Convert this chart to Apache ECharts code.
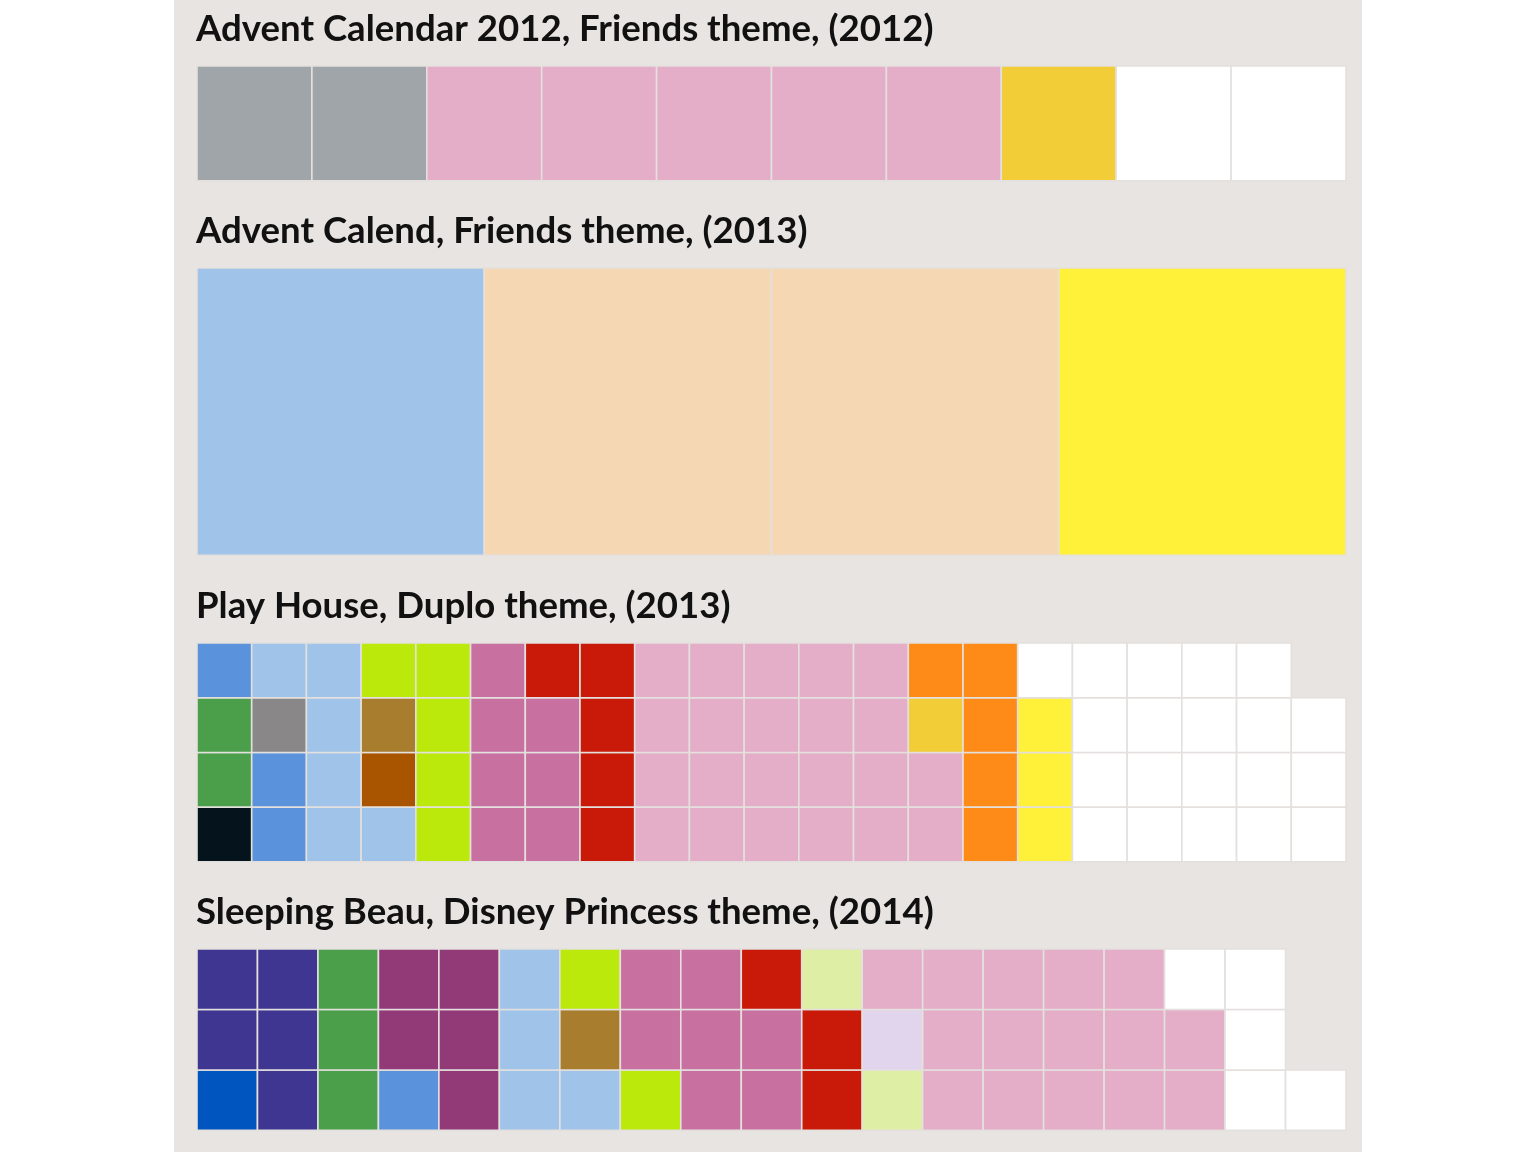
<!DOCTYPE html>
<html>
<head>
<meta charset="utf-8">
<script src="https://cdn.jsdelivr.net/npm/echarts@6/dist/echarts.min.js"></script>
<style>
html,body{margin:0;padding:0;background:#ffffff;}
#chart{width:1536px;height:1152px;}
</style>
</head>
<body>
<div id="chart"></div>
<script>
// ---- Data (colour counts per set, cells filled column by column, bottom to top) ----
const titles = [
  "Advent Calendar 2012, Friends theme, (2012)",
  "Advent Calend, Friends theme, (2013)",
  "Play House, Duplo theme, (2013)",
  "Sleeping Beau, Disney Princess theme, (2014)"
];
const rowsPerSet = [1, 1, 4, 3];

const set1Colors = ["#a0a5a9", "#e4adc8", "#f2cd37", "#ffffff"];
const set1Counts = [2, 5, 1, 2];

const set2Colors = ["#9fc3e9", "#f6d7b3", "#fff03a"];
const set2Counts = [1, 2, 1];

const set3Colors = ["#05131d", "#4b9f4a", "#5a93db", "#898788", "#9fc3e9", "#a95500", "#a87d2e", "#bbe90b", "#c870a0", "#c91a09", "#e4adc8", "#f2cd37", "#fe8a18", "#fff03a", "#ffffff"];
const set3Counts = [1, 2, 3, 1, 6, 1, 1, 5, 7, 5, 22, 1, 5, 3, 20];

const set4Colors = ["#0055bf", "#3f3691", "#4b9f4a", "#5a93db", "#923978", "#9fc3e9", "#a87d2e", "#bbe90b", "#c870a0", "#c91a09", "#dfeea5", "#e1d5ed", "#e4adc8", "#ffffff"];
const set4Counts = [1, 5, 3, 1, 5, 4, 1, 2, 7, 3, 2, 1, 15, 5];

const setColors = [set1Colors, set2Colors, set3Colors, set4Colors];
const setCounts = [set1Counts, set2Counts, set3Counts, set4Counts];

// ---- Layout ----
const plotLeft = 197, plotWidth = 1149;
const gridTops = [66, 268, 643, 949];
const titleTops = [11, 213, 588, 894];

function buildCells(counts, rows) {
  const cells = [];
  let i = 0;
  counts.forEach((n, ci) => {
    for (let k = 0; k < n; k++) {
      const col = Math.floor(i / rows);
      const row = i % rows;
      cells.push([col, row, ci]);
      i++;
    }
  });
  return cells;
}

const grids = [], xAxes = [], yAxes = [], series = [], titleOpts = [];
setCounts.forEach((counts, s) => {
  const rows = rowsPerSet[s];
  const total = counts.reduce((a, b) => a + b, 0);
  const cols = Math.ceil(total / rows);
  const cell = plotWidth / cols;
  grids.push({left: plotLeft, top: gridTops[s], width: plotWidth, height: cell * rows});
  xAxes.push({type: 'value', gridIndex: s, min: 0, max: cols, show: false});
  yAxes.push({type: 'value', gridIndex: s, min: 0, max: rows, show: false});
  const palette = setColors[s];
  series.push({
    type: 'custom',
    xAxisIndex: s, yAxisIndex: s,
    data: buildCells(counts, rows),
    renderItem: function (params, api) {
      const c = api.value(0), r = api.value(1), ci = api.value(2);
      const p0 = api.coord([c, r + 1]);
      const p1 = api.coord([c + 1, r]);
      return {
        type: 'rect',
        shape: {x: p0[0], y: p0[1], width: p1[0] - p0[0], height: p1[1] - p0[1]},
        style: {fill: palette[ci], stroke: '#e4e0dd', lineWidth: 1.6}
      };
    },
    animation: false
  });
  titleOpts.push({
    text: titles[s], left: plotLeft - 1, top: titleTops[s], padding: 0,
    textStyle: {fontFamily: 'Lato', fontWeight: 'bold', fontSize: 36.6, color: '#111111'}
  });
});

const chart = echarts.init(document.getElementById('chart'), null, {renderer: 'canvas'});
chart.setOption({
  animation: false,
  backgroundColor: '#ffffff',
  graphic: [{type: 'rect', z: -10, silent: true, shape: {x: 174, y: 0, width: 1188, height: 1152}, style: {fill: '#e8e4e1'}}],
  title: titleOpts,
  grid: grids,
  xAxis: xAxes,
  yAxis: yAxes,
  series: series
});
</script>
</body>
</html>
